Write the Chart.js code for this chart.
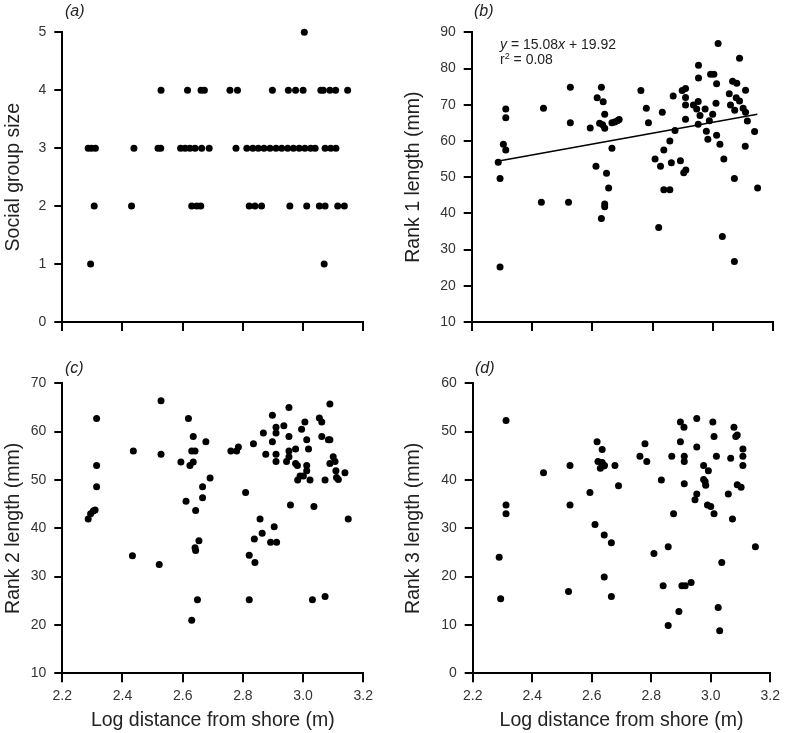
<!DOCTYPE html>
<html>
<head>
  <title>Social group size and rank lengths vs distance from shore</title>
  <script src="https://cdn.jsdelivr.net/npm/chart.js"></script>
  <style>
    body { margin: 0; background: #fff; font-family: "Liberation Sans", Arial, sans-serif; }
    #wrap { position: relative; width: 785px; height: 733px; }
    canvas { position: absolute; }
    .tag { position: absolute; font-style: italic; font-size: 16px; line-height: 16px; color: #222; }
    .eq { position: absolute; font-size: 14px; line-height: 15.7px; color: #222; }
    .eq sup { font-size: 9px; vertical-align: 5px; line-height: 0; }
  </style>
</head>
<body>
<div id="wrap">
  <canvas id="chartA" width="390" height="340" style="left:0;top:0"></canvas>
  <canvas id="chartB" width="395" height="340" style="left:390px;top:0"></canvas>
  <canvas id="chartC" width="390" height="393" style="left:0;top:340px"></canvas>
  <canvas id="chartD" width="395" height="393" style="left:390px;top:340px"></canvas>
  <div class="tag" style="left:65px;top:3px">(a)</div>
  <div class="tag" style="left:474px;top:3px">(b)</div>
  <div class="tag" style="left:65px;top:360px">(c)</div>
  <div class="tag" style="left:475px;top:360px">(d)</div>
  <div class="eq" style="left:500px;top:36.5px"><i>y</i> = 15.08<i>x</i> + 19.92<br>r<sup>2</sup> = 0.08</div>
</div>

<script>
  // (a) social group size
  const sizeX = [3.004,
    2.528, 2.616, 2.661, 2.672, 2.757, 2.782, 2.898, 2.951, 2.975, 3.0, 3.059, 3.067, 3.089, 3.108, 3.148,
    2.286, 2.297, 2.31, 2.438, 2.518, 2.527, 2.593, 2.608, 2.624, 2.641, 2.663, 2.688, 2.777, 2.813, 2.833,
    2.851, 2.870, 2.890, 2.910, 2.929, 2.949, 2.968, 2.987, 3.006, 3.025, 3.040, 3.073, 3.092, 3.109,
    2.306, 2.430, 2.630, 2.647, 2.660, 2.821, 2.840, 2.862, 2.956, 3.012, 3.054, 3.073, 3.115, 3.137,
    2.294, 3.07];
  const sizeY = [5,
    4, 4, 4, 4, 4, 4, 4, 4, 4, 4, 4, 4, 4, 4, 4,
    3, 3, 3, 3, 3, 3, 3, 3, 3, 3, 3, 3, 3, 3, 3,
    3, 3, 3, 3, 3, 3, 3, 3, 3, 3, 3, 3, 3, 3,
    2, 2, 2, 2, 2, 2, 2, 2, 2, 2, 2, 2, 2, 2,
    1, 1];

  // (b) rank 1 length
  const rank1X = [2.288, 2.294, 2.294, 2.305, 2.313, 2.313, 2.313, 2.431, 2.438, 2.521, 2.527, 2.527,
    2.593, 2.612, 2.616, 2.630, 2.636, 2.630, 2.624, 2.634, 2.641, 2.641, 2.647, 2.654, 2.641, 2.641,
    2.665, 2.665, 2.674, 2.683, 2.689,
    2.761, 2.779, 2.786, 2.808, 2.820, 2.826, 2.832, 2.837, 2.837, 2.857, 2.857, 2.862, 2.868, 2.874,
    2.892, 2.898, 2.903, 2.910, 2.909, 2.909, 2.909, 2.909, 2.935, 2.946, 2.952, 2.952, 2.951, 2.951,
    2.957, 2.974, 2.978, 2.983, 2.988, 2.992, 2.999, 3.003, 3.010, 3.012, 3.012, 3.017, 3.023, 3.031,
    3.036, 3.054, 3.058, 3.065, 3.072, 3.071, 3.071, 3.077, 3.079, 3.088, 3.088, 3.100, 3.108, 3.108,
    3.107, 3.114, 3.138, 3.148];
  const rank1Y = [54.1, 49.6, 25.2, 59.1, 57.5, 68.8, 66.4, 43.1, 69.0, 43.1, 74.8, 65.0,
    63.6, 53.0, 71.9, 74.8, 70.8, 38.6, 64.9, 64.5, 67.4, 63.5, 51.1, 47.0, 42.6, 41.8,
    58.0, 65.0, 65.2, 65.6, 65.9,
    73.9, 69.0, 65.0, 55.0, 36.1, 53.0, 67.9, 57.5, 46.5, 46.5, 60.0, 54.0, 72.4, 62.9,
    54.5, 73.9, 51.2, 52.0, 74.5, 72.0, 69.9, 66.0, 69.9, 68.8, 80.9, 77.4, 70.9, 64.6,
    67.0, 68.8, 62.7, 60.5, 65.6, 78.4, 67.4, 78.4, 70.4, 75.8, 61.6, 86.9, 59.1, 33.6,
    55.0, 73.0, 69.9, 76.5, 68.5, 49.6, 26.7, 71.9, 75.9, 82.8, 71.0, 69.0, 67.9, 74.0,
    58.5, 65.5, 62.6, 47.0];
  // fitted line end points, y = 15.08x + 19.92
  const fitX = [2.285, 3.147];
  const fitY = [54.38, 67.38];

  // (c) rank 2 length
  const rank2X = [2.286, 2.294, 2.303, 2.309, 2.314, 2.314, 2.314, 2.436, 2.433, 2.528, 2.528, 2.522,
    2.594, 2.611, 2.619, 2.624, 2.630, 2.635, 2.635, 2.641, 2.643, 2.641, 2.643, 2.654, 2.649, 2.630,
    2.666, 2.666, 2.677, 2.691, 2.760, 2.779, 2.785, 2.809, 2.821, 2.821, 2.835, 2.838, 2.840, 2.857,
    2.864, 2.868, 2.876, 2.892, 2.898, 2.898, 2.904, 2.910, 2.910, 2.910, 2.910, 2.912, 2.936, 2.945,
    2.953, 2.953, 2.953, 2.953, 2.958, 2.975, 2.975, 2.981, 2.982, 2.990, 2.995, 3.001, 3.006, 3.012,
    3.012, 3.012, 3.018, 3.023, 3.036, 3.031, 3.054, 3.062, 3.062, 3.073, 3.073, 3.084, 3.089, 3.089,
    3.089, 3.100, 3.106, 3.109, 3.111, 3.117, 3.139, 3.150];
  const rank2Y = [41.9, 43.0, 43.6, 43.8, 62.7, 53.0, 48.6, 56.0, 34.3, 66.4, 55.3, 32.5,
    53.7, 45.6, 62.7, 53.0, 56.0, 59.0, 53.7, 56.0, 43.7, 36.0, 35.4, 37.4, 25.2, 21.0,
    48.6, 46.3, 57.9, 50.4, 56.0, 56.0, 56.8, 47.4, 34.4, 25.2, 57.5, 37.8, 32.9, 41.9,
    39.0, 59.7, 55.3, 37.1, 63.4, 57.9, 40.3, 60.9, 59.7, 55.3, 53.8, 37.1, 61.2, 53.8,
    65.0, 59.0, 56.0, 54.8, 44.8, 56.4, 53.4, 53.0, 50.0, 50.8, 60.5, 50.8, 62.0, 58.3,
    53.0, 51.9, 56.4, 50.0, 44.5, 25.2, 62.8, 62.0, 59.0, 50.0, 25.9, 58.3, 58.3, 53.4,
    65.7, 54.8, 53.8, 51.9, 50.5, 50.1, 51.5, 41.9];

  // (d) rank 3 length
  const rank3X = [2.289, 2.294, 2.312, 2.312, 2.312, 2.438, 2.527, 2.527, 2.522, 2.594, 2.611, 2.618,
    2.621, 2.629, 2.635, 2.635, 2.640, 2.643, 2.642, 2.642, 2.666, 2.666, 2.678, 2.690, 2.762, 2.779,
    2.785, 2.809, 2.834, 2.840, 2.857, 2.857, 2.869, 2.875, 2.893, 2.898, 2.898, 2.903, 2.910, 2.911,
    2.911, 2.911, 2.914, 2.934, 2.947, 2.953, 2.953, 2.953, 2.976, 2.976, 2.981, 2.983, 2.992, 2.989,
    3.000, 3.007, 3.011, 3.011, 3.019, 3.025, 3.030, 3.037, 3.059, 3.067, 3.073, 3.078, 3.084, 3.089,
    3.089, 3.102, 3.108, 3.108, 3.108, 3.150];
  const rank3Y = [24.0, 15.4, 52.3, 34.8, 33.0, 41.5, 43.0, 34.8, 16.9, 37.4, 30.8, 47.9,
    43.8, 42.4, 46.3, 43.6, 42.9, 43.0, 28.6, 19.9, 27.0, 15.9, 43.0, 38.8, 44.9, 47.5,
    43.8, 24.8, 40.0, 18.1, 26.2, 9.9, 44.9, 33.0, 12.8, 52.0, 47.9, 18.1, 50.9, 44.9,
    43.8, 39.2, 18.1, 18.8, 35.9, 52.7, 46.8, 37.1, 43.0, 40.1, 39.7, 38.9, 41.9, 34.8,
    34.5, 52.0, 49.0, 33.0, 44.9, 13.6, 8.8, 22.9, 37.1, 44.5, 31.9, 50.9, 49.0, 49.3,
    39.0, 38.5, 46.4, 44.9, 43.0, 26.2];

  Chart.defaults.font.family = '"Liberation Sans", Arial, sans-serif';

  function pts(xs, ys) {
    return xs.map((x, i) => ({ x: x, y: ys[i] }));
  }

  function makePanel(id, xs, ys, o) {
    const datasets = [{
      data: pts(xs, ys),
      backgroundColor: '#000',
      pointRadius: 3.5,
      pointBorderWidth: 0,
      showLine: false,
      clip: false
    }];
    if (o.fit) {
      datasets.push({
        data: pts(o.fit[0], o.fit[1]),
        borderColor: '#000',
        borderWidth: 1.5,
        pointRadius: 0,
        showLine: true,
        fill: false
      });
    }
    new Chart(document.getElementById(id), {
      type: 'scatter',
      data: { datasets: datasets },
      options: {
        responsive: false,
        animation: false,
        layout: { padding: { top: o.top, right: o.right, left: 0, bottom: 0 } },
        plugins: { legend: { display: false }, tooltip: { enabled: false } },
        scales: {
          x: {
            min: 2.2, max: 3.2,
            border: { color: '#000', width: 2 },
            grid: { drawOnChartArea: false, color: '#000', lineWidth: 2, tickLength: 9 },
            ticks: {
              display: o.bottom, stepSize: 0.2, padding: 5, maxRotation: 0,
              color: '#333', font: { size: 14 },
              callback: v => v.toFixed(1)
            },
            title: {
              display: o.bottom, text: 'Log distance from shore (m)',
              color: '#222', font: { size: 19.5 }, padding: { top: 0, bottom: 0.5 }
            },
            afterFit: s => { s.height = o.xh; }
          },
          y: {
            min: o.ymin, max: o.ymax,
            border: { color: '#000', width: 2 },
            grid: { drawOnChartArea: false, color: '#000', lineWidth: 2, tickLength: 8 },
            ticks: { stepSize: o.step, padding: 8, color: '#333', font: { size: 14 } },
            title: {
              display: true, text: o.ytitle,
              color: '#222', font: { size: 19.5 }, padding: { top: o.tpad, bottom: 0 }
            },
            afterFit: s => { s.width = o.yw; }
          }
        }
      }
    });
  }

  makePanel('chartA', sizeX, sizeY, {
    top: 32.3, right: 26.7, xh: 18, yw: 62.3, tpad: 1.8, bottom: false,
    ymin: 0, ymax: 5, step: 1, ytitle: 'Social group size'
  });
  makePanel('chartB', rank1X, rank1Y, {
    top: 32.3, right: 11.7, xh: 18, yw: 81.7, tpad: 12.1, bottom: false,
    ymin: 10, ymax: 90, step: 10, ytitle: 'Rank 1 length (mm)', fit: [fitX, fitY]
  });
  makePanel('chartC', rank2X, rank2Y, {
    top: 43.3, right: 26.7, xh: 59.7, yw: 62.3, tpad: 1.7, bottom: true,
    ymin: 10, ymax: 70, step: 10, ytitle: 'Rank 2 length (mm)'
  });
  makePanel('chartD', rank3X, rank3Y, {
    top: 43.3, right: 11.7, xh: 59.7, yw: 82.7, tpad: 12.1, bottom: true,
    ymin: 0, ymax: 60, step: 10, ytitle: 'Rank 3 length (mm)'
  });
</script>
</body>
</html>
